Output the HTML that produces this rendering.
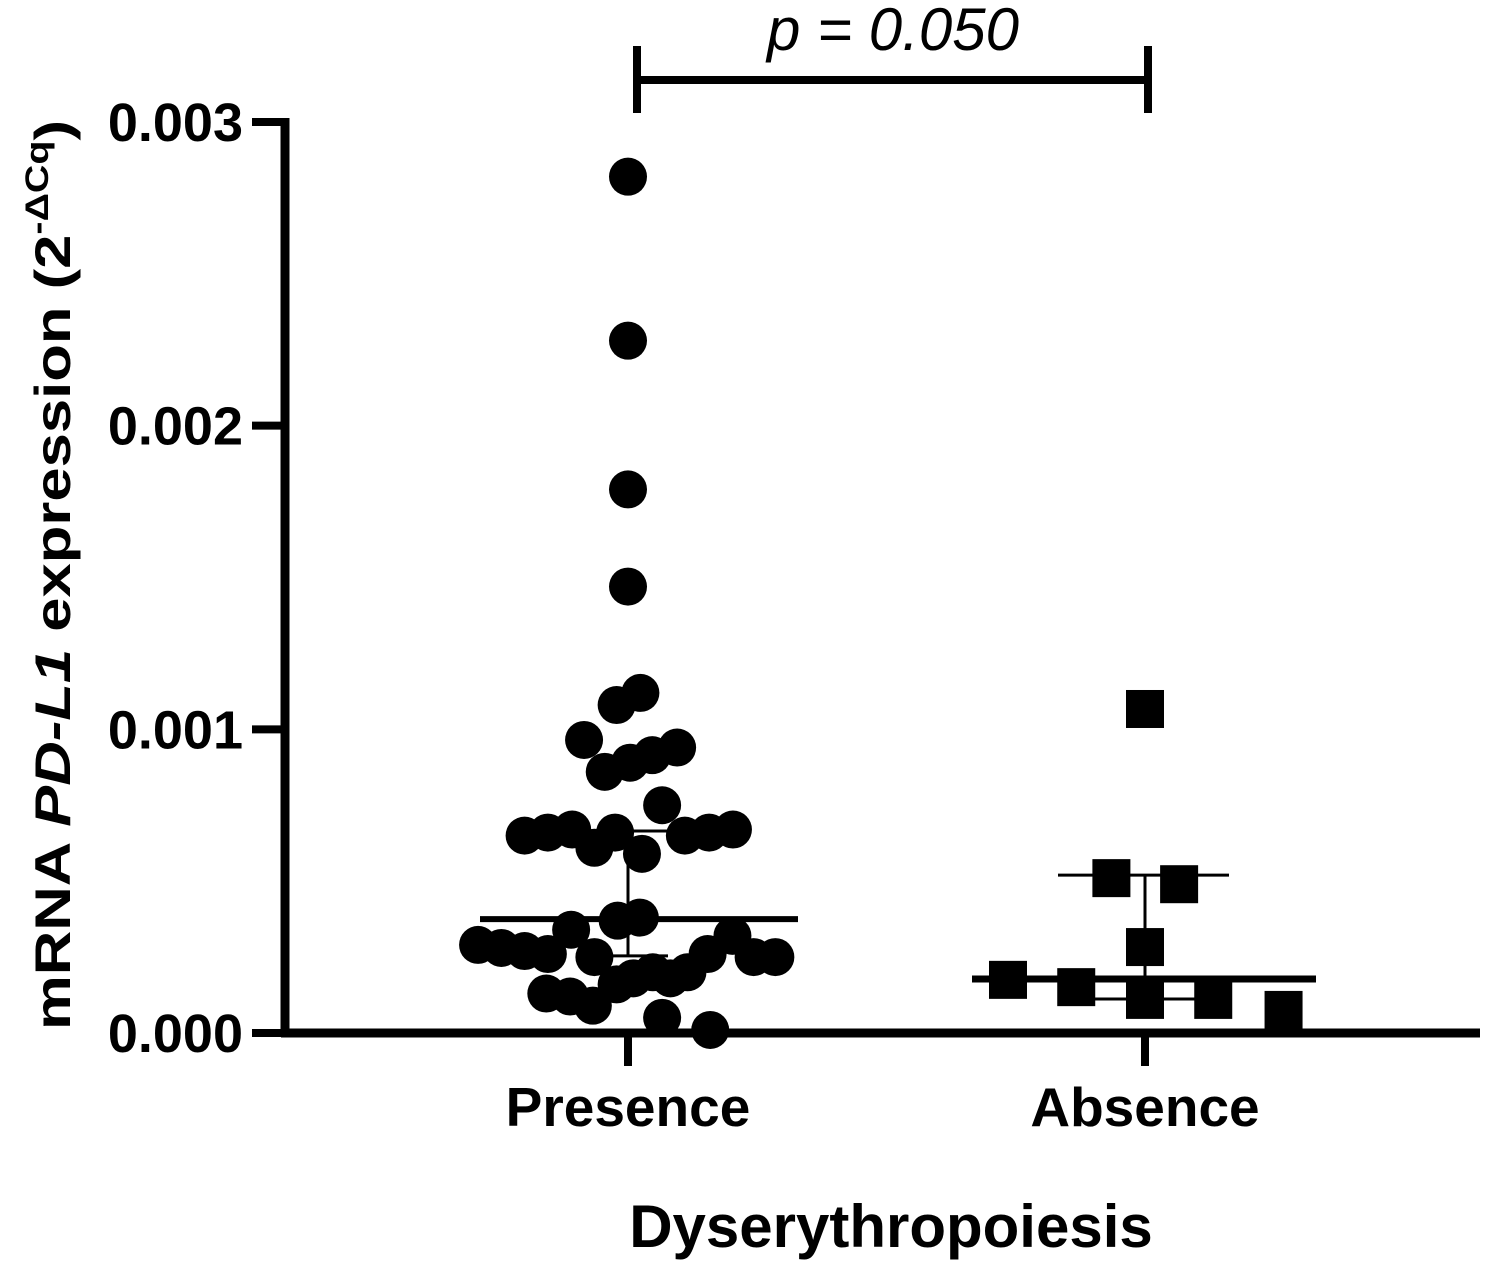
<!DOCTYPE html>
<html><head><meta charset="utf-8"><style>
html,body{margin:0;padding:0;background:#fff;}
svg{display:block;font-family:"Liberation Sans",Arial,sans-serif;}
</style></head><body>
<svg id="chart" width="1500" height="1265" viewBox="0 0 1500 1265">
<g id="axes"></g>
<g id="marks"></g>
<g id="stats"></g>
<g>
<line x1="637" y1="80" x2="1148" y2="80" stroke="#000" stroke-width="8"/>
<line x1="637" y1="46" x2="637" y2="113" stroke="#000" stroke-width="8"/>
<line x1="1148" y1="46" x2="1148" y2="113" stroke="#000" stroke-width="8"/>
<text x="893" y="50" text-anchor="middle" font-size="60" font-style="italic">p = 0.050</text>
</g>
<text x="891" y="1247" text-anchor="middle" font-size="60" font-weight="bold">Dyserythropoiesis</text>
<text transform="translate(70,575) rotate(-90)" text-anchor="middle" font-size="50" font-weight="bold" textLength="910" lengthAdjust="spacingAndGlyphs">mRNA <tspan font-style="italic">PD-L1</tspan> expression (2<tspan font-size="32" dy="-22">-ΔCq</tspan><tspan dy="22">)</tspan></text>
</svg>
<script>
const categories = ["Presence","Absence"];
const yTicks = [0, 0.001, 0.002, 0.003];
const yTickLabels = ["0.000","0.001","0.002","0.003"];
const presenceValues = [0.00282,0.00228,0.00179,0.00147,0.00112,0.00108,0.000965,0.00094,0.000915,0.00089,0.00086,0.00075,
0.00065,0.00066,0.00067,0.00061,0.00066,0.00059,0.00065,0.00066,0.00067,0.00037,0.00038,0.00034,
0.00029,0.00028,0.00027,0.00026,0.00025,0.00013,0.00012,0.00009,0.00016,0.00018,0.0002,0.00018,0.0002,0.00026,0.00032,0.00025,0.00025,0.00005,0.00001];
const presenceJitter = [0,0,0,0,0.024,-0.022,-0.085,0.095,0.047,0.004,-0.045,0.066,
-0.2,-0.155,-0.108,-0.065,-0.025,0.027,0.11,0.157,0.203,-0.02,0.023,-0.11,
-0.29,-0.245,-0.2,-0.155,-0.065,-0.158,-0.112,-0.068,-0.022,0.01,0.048,0.082,0.115,0.154,0.202,0.243,0.285,0.066,0.159];
const absenceValues = [0.001067,0.00051,0.00049,0.000283,0.000175,0.000151,0.000109,0.000109,0.000076];
const absenceJitter = [0,-0.065,0.066,0,-0.265,-0.133,0,0.132,0.268];
const presenceMean = 0.000375, presenceUpper = 0.000665, presenceLower = 0.000254;
const absenceMedian = 0.000178, absenceUpper = 0.00052, absenceLower = 0.000112;
</script>
<script>
const NS="http://www.w3.org/2000/svg";
const x0=285, x1=1480, yBase=1033, yTop=122, yMax=0.003;
const catX=[628,1145], catSpan=517;
function yS(v){return yBase-(v/yMax)*(yBase-yTop);}
function xS(i,j){return catX[i]+j*catSpan;}
function mk(tag,attrs,parent){const e=document.createElementNS(NS,tag);for(const k in attrs)e.setAttribute(k,attrs[k]);parent.appendChild(e);return e;}
const axes=document.getElementById('axes'),marks=document.getElementById('marks'),stats=document.getElementById('stats');
let e=mk('line',{x1:x0,y1:yTop-4,x2:x0,y2:yBase+4,stroke:'#000','stroke-width':9},axes);


e=mk('line',{x1:x0-4,y1:yBase,x2:x1,y2:yBase,stroke:'#000','stroke-width':9},axes);


yTicks.forEach((t,i)=>{
 const y=yS(t);
 let l=mk('line',{x1:252,y1:y,x2:x0,y2:y,stroke:'#000','stroke-width':8},axes);
 
 
 let tx=mk('text',{x:243,y:y+19,'text-anchor':'end','font-size':54,'font-weight':'bold'},axes);
 tx.textContent=yTickLabels[i];
 
 
});
categories.forEach((c,i)=>{
 let l=mk('line',{x1:catX[i],y1:yBase,x2:catX[i],y2:1066,stroke:'#000','stroke-width':8},axes);
 
 
 let tx=mk('text',{x:catX[i],y:1126,'text-anchor':'middle','font-size':55,'font-weight':'bold'},axes);
 tx.textContent=c;
 
 
});
presenceValues.forEach((v,k)=>{
 let c=mk('circle',{cx:xS(0,presenceJitter[k]||0),cy:yS(v),r:19,fill:'#000'},marks);
 
 
});
absenceValues.forEach((v,k)=>{
 let s=mk('rect',{x:xS(1,absenceJitter[k]||0)-19,y:yS(v)-19,width:38,height:38,fill:'#000'},marks);
 
 
});
function seg(x1,y1,x2,y2,w,name){let l=mk('line',{x1,y1,x2,y2,stroke:'#000','stroke-width':w},stats);}
seg(480,yS(presenceMean),798,yS(presenceMean),6,'presence-mean-line');
seg(628,yS(presenceUpper),628,yS(presenceLower),3,'presence-error-bar');
seg(585,yS(presenceUpper),668,yS(presenceUpper),3,'presence-error-cap-upper');
seg(585,yS(presenceLower),668,yS(presenceLower),3,'presence-error-cap-lower');
seg(972,yS(absenceMedian),1316,yS(absenceMedian),7,'absence-median-line');
seg(1145,yS(absenceUpper),1145,yS(absenceLower),3,'absence-error-bar');
seg(1058,yS(absenceUpper),1229,yS(absenceUpper),3,'absence-error-cap-upper');
seg(1058,yS(absenceLower),1229,yS(absenceLower),3,'absence-error-cap-lower');
</script>
</body></html>
